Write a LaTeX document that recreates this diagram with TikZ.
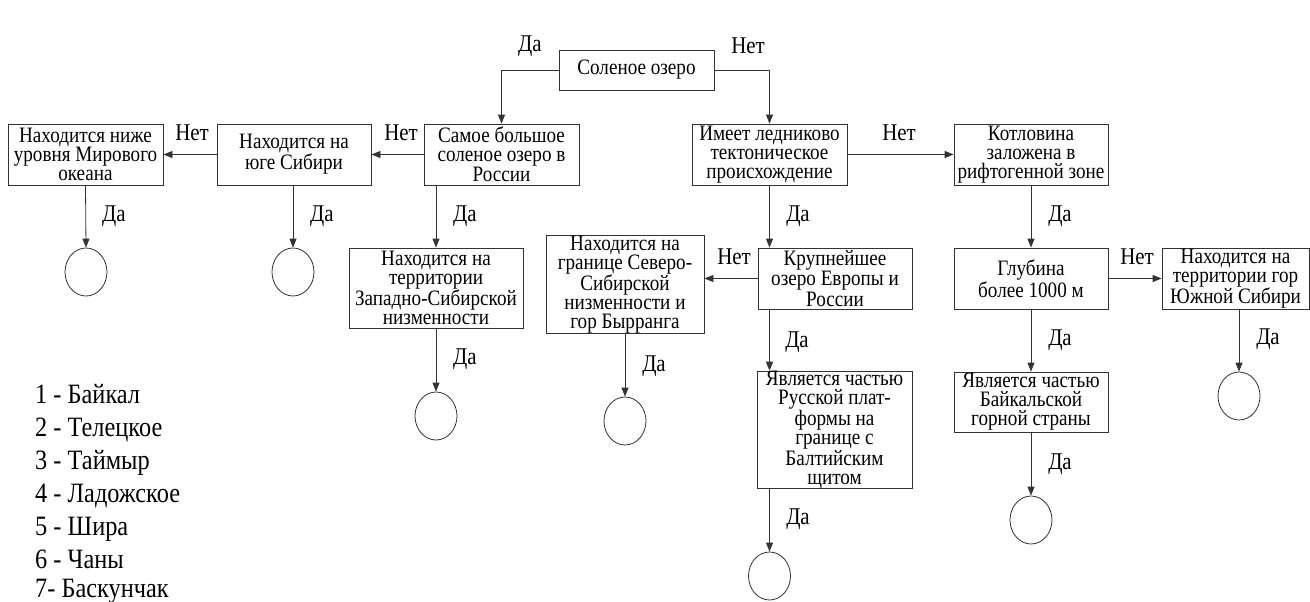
\documentclass[tikz,border=0pt]{standalone}
\usepackage{fontspec}
\setmainfont{Liberation Serif}[FakeStretch=0.87]
\usetikzlibrary{arrows.meta,calc,shapes.geometric}
\definecolor{linec}{HTML}{333333}
\begin{document}
\begin{tikzpicture}[x=1pt,y=-1pt,
 box/.style={draw=linec, line width=0.8pt, inner sep=0pt, align=center, font=\fontsize{22}{19}\selectfont},
 endc/.style={draw=linec, line width=0.8pt, ellipse, minimum width=42pt, minimum height=48pt, inner sep=0pt},
 arr/.style={draw=linec, line width=0.8pt, -{Triangle[length=9pt,width=7pt]}},
 lab/.style={font=\fontsize{24}{24}\selectfont, inner sep=0pt},
 leg/.style={font=\fontsize{28}{28}\selectfont, inner sep=0pt, anchor=base west}]
\useasboundingbox[fill=white] (0,0) rectangle (1310,602);

% boxes
\node[box, minimum width=155pt, minimum height=40pt] (top) at (636.5,70) {Соленое озеро};
\node[box, minimum width=155pt, minimum height=61pt] (n1) at (85.5,154.5) {Находится ниже\\уровня Мирового\\океана};
\node[box, minimum width=154pt, minimum height=61pt] (n2) at (294,154.5) {Находится на\\юге Сибири};
\node[box, minimum width=155pt, minimum height=61pt] (n3) at (501.5,154.5) {Самое большое\\соленое озеро в\\России};
\node[box, minimum width=155pt, minimum height=61pt] (n4) at (769.5,154.5) {Имеет ледниково\\тектоническое\\происхождение};
\node[box, minimum width=154pt, minimum height=61pt] (n5) at (1031,154.5) {Котловина\\заложена в\\рифтогенной зоне};
\node[box, minimum width=174pt, minimum height=80pt] (n6) at (436,288) {Находится на\\территории\\Западно-Сибирской\\низменности};
\node[box, minimum width=158pt, minimum height=97pt] (n7) at (625,284.5) {Находится на\\границе Северо-\\Сибирской\\низменности и\\гор Бырранга};
\node[box, minimum width=154pt, minimum height=61pt] (n8) at (835,278.5) {Крупнейшее\\озеро Европы и\\России};
\node[box, minimum width=154pt, minimum height=61pt] (n9) at (1031,278.5) {Глубина\\более 1000 м};
\node[box, minimum width=147pt, minimum height=61pt] (n10) at (1235.5,278.5) {Находится на\\территории гор\\Южной Сибири};
\node[box, minimum width=155pt, minimum height=116pt] (n11) at (834.5,430) {Является частью\\Русской плат-\\формы на\\границе с\\Балтийским\\щитом};
\node[box, minimum width=154pt, minimum height=60pt] (n12) at (1031,402) {Является частью\\Байкальской\\горной страны};

% end circles
\node[endc] (c1) at (86,272) {};
\node[endc] (c2) at (293,272) {};
\node[endc] (c3) at (436,416) {};
\node[endc] (c4) at (625,421) {};
\node[endc] (c5) at (769.5,576) {};
\node[endc] (c6) at (1031,520) {};
\node[endc] (c7) at (1239,396) {};

% connectors
\draw[arr] (top.west) -| (n3.north);
\draw[arr] (top.east) -| (n4.north);
\draw[arr] (n3.west) -- (n2.east);
\draw[arr] (n2.west) -- (n1.east);
\draw[arr] (n4.east) -- (n5.west);
\draw[arr] (n1.south) -- (c1.north);
\draw[arr] (n2.south -| c2.north) -- (c2.north);
\draw[arr] (n3.south -| n6.north) -- (n6.north);
\draw[arr] (n6.south) -- (c3.north);
\draw[arr] (n4.south) -- (n4.south |- n8.north);
\draw[arr] (n8.west) -- (n8.west -| n7.east);
\draw[arr] (n7.south) -- (c4.north);
\draw[arr] (n4.south |- n8.south) -- (n4.south |- n11.north);
\draw[arr] (c5.north |- n11.south) -- (c5.north);
\draw[arr] (n5.south) -- (n9.north);
\draw[arr] (n9.east) -- (n9.east -| n10.west);
\draw[arr] (c7.north |- n10.south) -- (c7.north);
\draw[arr] (n9.south) -- (n12.north);
\draw[arr] (n12.south) -- (c6.north);

% labels
\node[lab] (l1) at (530,46) {Да};
\node[lab] (l2) at (748,46) {Нет};
\node[lab] (l3) at (401,133) {Нет};
\node[lab] (l4) at (192,133) {Нет};
\node[lab] (l5) at (899,133) {Нет};
\node[lab] (l6) at (114,216) {Да};
\node[lab] (l7) at (322,216) {Да};
\node[lab] (l8) at (465,216) {Да};
\node[lab] (l9) at (798,216) {Да};
\node[lab] (l10) at (1060,216) {Да};
\node[lab] (l11) at (734,257) {Нет};
\node[lab] (l12) at (1137,257) {Нет};
\node[lab] (l13) at (1268,339) {Да};
\node[lab] (l14) at (1060,340) {Да};
\node[lab] (l15) at (797,342) {Да};
\node[lab] (l16) at (465,359) {Да};
\node[lab] (l17) at (654,366) {Да};
\node[lab] (l18) at (1060,464) {Да};
\node[lab] (l19) at (798,519) {Да};

% legend
\node[leg] (g1) at (35,403) {1 - Байкал};
\node[leg] (g2) at (35,436) {2 - Телецкое};
\node[leg] (g3) at (35,469) {3 - Таймыр};
\node[leg] (g4) at (35,502) {4 - Ладожское};
\node[leg] (g5) at (35,535) {5 - Шира};
\node[leg] (g6) at (35,568) {6 - Чаны};
\node[leg] (g7) at (35,597) {7- Баскунчак};
\end{tikzpicture}
\end{document}
